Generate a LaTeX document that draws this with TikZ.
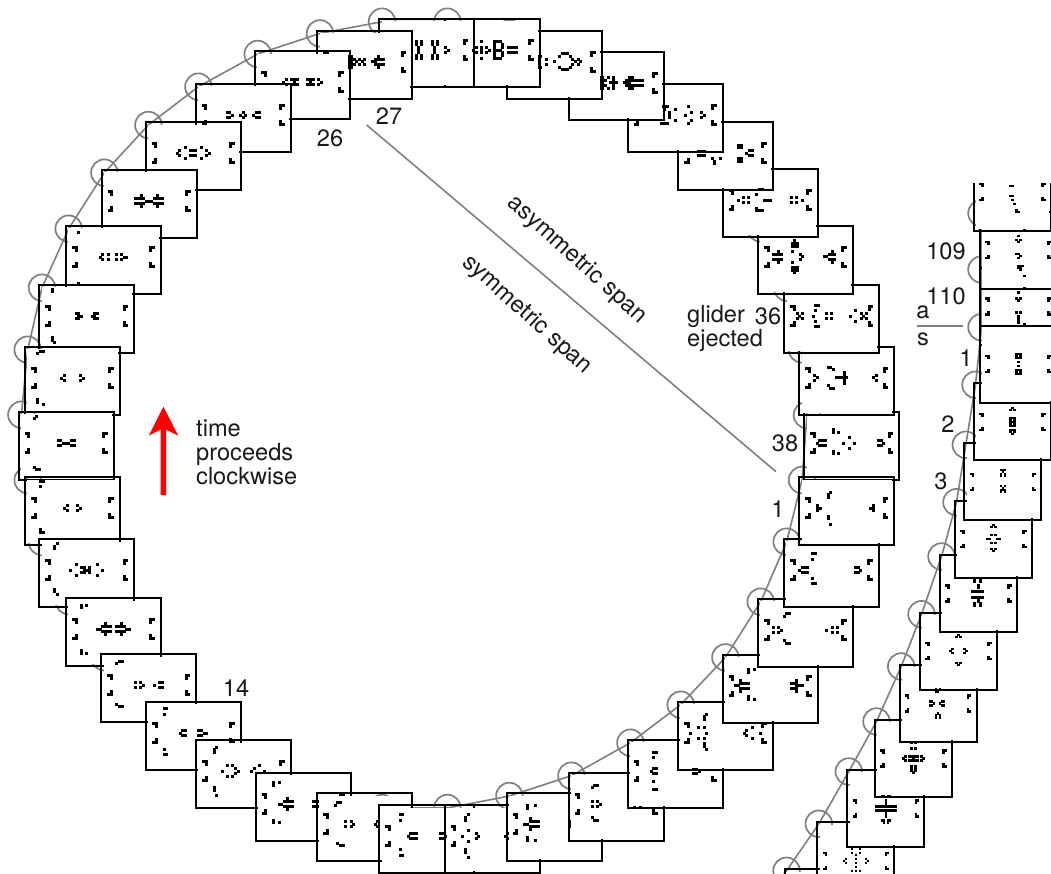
\documentclass[tikz,border=0pt]{standalone}
\usepackage{fontspec}
\setmainfont{TeX Gyre Heros}
\definecolor{ringgray}{HTML}{808080}
\definecolor{txt}{HTML}{1A1A1A}
\newcommand{\fra}[3]{%
 \begin{scope}[shift={(#1,#2)}]
  \fill[white] (2.2,2.2) rectangle (92.8,65.8);
  \draw[frm] (0,0) rectangle (95,68);
  \begin{scope}[shift={(47.5,31)}]
   \foreach \q/\r in {-15/-3.5,-14/-3.5,-14/-2.5,-14/2.5,-15/3.5,-14/3.5,14/-3.5,15/-3.5,14/-2.5,14/2.5,14/3.5,15/3.5,#3}
    {\fill (\q*2.67-1.5,\r*2.67-1.5) rectangle +(3,3);}
  \end{scope}
 \end{scope}}
\newcommand{\frb}[3]{%
 \begin{scope}[shift={(#1,#2)}]
  \fill[white] (2.2,2.2) rectangle (74.8,74.8);
  \draw[frm] (0,0) rectangle (77,77);
  \begin{scope}[shift={(38.5,38.5)}]
   \foreach \q/\r in {-16/-4,-15/-4,-15/-3,-15/3,-16/4,-15/4,15/-4,16/-4,15/-3,15/3,15/4,16/4,#3}
    {\fill (\q*2-1.2,\r*2-1.2) rectangle +(2.4,2.4);}
  \end{scope}
 \end{scope}}
\tikzset{
 frm/.style={draw=black,line width=1.8pt,line join=miter},
 ringc/.style={draw=ringgray,line width=1.7pt},
 ringl/.style={draw=ringgray,line width=1.6pt},
 lab/.style={font=\fontsize{23.6}{24}\selectfont,text=txt,inner sep=0pt},
}
\begin{document}
\begin{tikzpicture}[x=1pt,y=-1pt]
\useasboundingbox (0,0) rectangle (1051,873);
\clip (0,0) rectangle (1051,873);
\fill[white] (0,0) rectangle (1051,873);
% ring one: circles and path
\foreach \n/\x/\y in {1/799.3/477.3,2/784/539,3/758/599,4/722.7/654.7,5/678/702,6/627.7/740,7/568.7/773,8/506.7/793.3,9/444.7/805.3,10/379.3/805.3,11/317/793.3,12/255.7/773,13/196/740.3,14/146/702,15/101.3/654.3,16/66/598.3,17/39.3/539.3,18/25/477.3,19/18.7/412,20/25/347,21/39.3/285,22/66/226,23/101.7/170,24/145.7/122.3,25/195.7/84,26/255/51.3,27/317.3/30.7,28/379.3/19,29/444.7/19,30/506.7/30.7,31/568.7/51.7,32/627.7/84,33/678/122.3,34/722.7/169.3,35/758/225.7,36/784.3/285,37/799.3/346.7,38/804.3/412.3}
 {\coordinate (m\n) at (\x+2.7,\y+2.7);
  \draw[ringc] (m\n) circle (13.3);}
\draw[ringl] (m1) \foreach \n in {2,...,38} { -- (m\n) } -- cycle;
% ring two: circles and path
\foreach \n/\x/\y in {1/980/325.7,2/974/383.3,3/964.3/443.3,4/955/500.7,5/940/555,6/920/612.7,7/899.7/665,8/875/720,9/847.3/770,10/817.3/822.3,11/785/869.3,12/750/915,110/980/268,109/980/211.7}
 {\coordinate (r\n) at (\x+1.5,\y+1.5);
  \draw[ringc] (r\n) circle (13.3);}
\draw[ringl] (r109) -- (r110) -- (r1) \foreach \n in {2,...,12} { -- (r\n) };
% ring one frames, last first
\fra{804.3}{412.3}{-13/0,-12/-1,-11/-1,-10/-1,-12/1,-11/1,-10/1,-7/-5,-7/-4,-5/-4,-7/3,-7/4,-5/4,-3/0,-1/-2,-1/2,1/0,10/-1,11/-1,12/0,10/1,11/1}
\fra{799.3}{346.7}{-12/-1,-11/0,-12/1,-7/-4,-6/-4,-5/-3,-7/3,-6/4,-5/4,-4/0,-3/0,-2/0,-1/0,0/0,-1/-2,-1/-1,-1/1,-1/2,10/0,11/-1,11/1}
\fra{784.3}{285}{-13/-1,-12/0,-11/1,-13/1,-11/-1,-7/0,-6/-4,-5/-4,-6/-2,-6/2,-6/4,-5/4,-2/-1,0/-1,-2/1,0/1,7/0,9/-2,9/2,11/-1,12/0,13/1,13/-1,11/1}
\fra{758}{225.7}{-12/-1,-11/-1,-10/-1,-9/-1,-12/1,-11/1,-10/1,-9/1,-10/-2,-10/2,-5/-5,-4/-5,-3/-5,-5/-4,-3/-4,-4/-4,-4/-6,-5/-2,-2/-1,-1/0,-2/1,-5/2,-5/4,-4/4,-3/4,-4/5,-4/6,-3/5,-5/5,7/0,8/0,9/-1,10/-1,11/-1,9/1,10/1,11/1,10/-2,10/2}
\fra{722.7}{169.3}{-12/0,-10/-1,-10/1,-8/-1,-8/1,-4/-4,-3/-4,-5/-2,-2/0,-1/0,0/0,-5/3,-5/4,-4/4,-3/4,8/-1,8/1,10/-1,10/1,12/0}
\fra{678}{122.3}{-10/-1,-9/-1,-8/-1,-10/1,-9/1,-8/1,-5/2,-4/4,-2/2,-4/3,5/-3,6/-3,5/-2,6/-2,5/2,6/2,5/3,6/3,8/0,9/-1,10/-1,9/1,10/1}
\fra{627.7}{84}{-5/-3,-4/-3,-3/-3,-4/-2,-5/3,-4/3,-3/3,-2/-1,-2/0,-2/1,0/-2,0/2,5/-3,6/-1,4/0,6/2,5/3,10/-1,11/0,10/1}
\fra{568.7}{51.7}{-6/-2,-6/-1,-6/0,-6/1,-6/2,-5/-2,-5/-1,-5/0,-5/1,-5/2,-4/-1,-4/1,-3/-2,-3/2,-2/0,-1/0,0/0,-1/-2,-1/-1,-1/1,-1/2,3/0,4/-1,5/-1,6/-1,7/-1,8/-1,9/-1,10/-1,4/1,5/1,6/1,7/1,8/1,9/1,10/1,5/-2,6/-2,5/2,6/2,4/0,5/0}
\fra{506.7}{30.7}{-6/-2,-5/-2,-6/-1,-6/0,-6/1,-6/2,-5/2,-3/-1,-3/1,0/0,2/-2,3/-3,4/-3,5/-3,6/-2,7/-1,8/0,7/1,6/2,5/3,4/3,3/3,2/2,9/-1,10/0,9/1}
\fra{444.7}{19}{-7/0,-6/-1,-6/1,-4/-3,-4/-1,-4/0,-4/1,-4/3,-2/-1,-1/0,-2/1,1/-3,1/-2,1/-1,1/0,1/1,1/2,1/3,2/-3,3/-3,4/-2,2/0,3/0,4/-1,4/1,4/2,2/3,3/3,6/-1,7/-1,8/-1,9/-1,6/1,7/1,8/1,9/1}
\fra{379.3}{19}{-4/-3,-4/-2,-2/-3,-2/-2,-3/-1,-3/0,-3/1,-4/2,-4/3,-2/2,-2/3,2/-3,2/-2,4/-3,4/-2,3/-1,3/0,3/1,2/2,2/3,4/2,4/3,7/-1,8/0,7/1}
\fra{317.3}{30.7}{-6/-2,-5/-2,-6/-1,-6/0,-6/1,-6/2,-5/2,-5/-1,-5/0,-5/1,-4/-1,-4/1,-3/0,-2/-1,-1/0,-2/1,0/-1,0/1,3/0,4/-1,5/-1,6/-1,7/-1,4/1,5/1,6/1,7/1,5/-2,5/2,4/0}
\fra{255}{51.3}{-7/0,-6/-1,-6/1,-4/-1,-3/-1,-2/-1,-3/0,-4/1,-3/1,-2/1,2/-1,3/-1,4/-1,3/0,2/1,3/1,4/1,6/-1,6/1,7/0}
\fra{195.7}{84}{-6/-1,-5/-1,-4/0,-6/1,-5/1,-1/0,0/-1,0/1,1/0,4/0,5/-1,6/-1,5/1,6/1}
\fra{145.7}{122.3}{-6/0,-5/-1,-5/1,-3/-2,-3/2,-1/-1,0/-1,1/-1,-1/1,0/1,1/1,3/-2,3/2,5/-1,5/1,6/0}
\fra{101.7}{170}{-5/-1,-4/-1,-3/-1,-2/-1,-5/1,-4/1,-3/1,-2/1,-1/0,0/0,1/0,2/-1,3/-1,4/-1,5/-1,2/1,3/1,4/1,5/1,-3/-2,-3/2,3/-2,3/2}
\fra{66}{226}{-5/0,-4/-1,-4/1,-2/-1,-2/1,1/-1,1/1,3/-1,3/1,5/0,4/0,-13/-9,-13/10}
\fra{39.3}{285}{-4/-1,-3/-1,-2/0,-3/1,-4/1,-3/0,3/-1,4/-1,2/0,3/1,4/1,3/0,-13/-10,-13/-9,-13/8,-13/9,-12/10}
\fra{25}{347}{-4/0,-3/-1,-3/1,3/-1,3/1,4/0,-12/-10,-13/-9,-11/-10,-13/8,-13/9,-11/10}
\fra{18.7}{412}{-3/-1,-2/-1,2/-1,3/-1,-1/0,0/0,1/0,-3/1,-2/1,2/1,3/1,-11/-10,-12/-9,-12/9,-11/10,-10/10}
\fra{25}{477.3}{-3/0,-2/-1,-2/1,2/-1,2/1,3/0,-12/-10,-11/-10,-12/-8,-12/8,-12/9,-11/9}
\fra{39.3}{539.3}{-6/0,-4/-2,-4/2,4/-2,4/2,6/0,-2/-1,-1/-1,1/-1,-1/0,0/0,1/0,-2/1,-1/1,1/1,-11/-10,-12/-9,-12/-8,-12/7,-12/8,-11/9}
\fra{66}{598.3}{-6/0,-5/0,-4/-1,-3/-1,-2/-1,-1/-1,-4/1,-3/1,-2/1,-1/1,-3/-2,-3/2,1/-1,2/-1,3/-1,4/-1,1/1,2/1,3/1,4/1,5/0,6/0,3/-2,3/2,-12/-9,-12/-8,-10/-9,-12/8,-12/9,-10/9}
\fra{101.3}{654.3}{-5/-1,-5/1,-3/-1,-3/1,-2/0,2/0,4/-1,4/1,5/-1,5/1,-11/-9,-10/-9,-12/-8,-12/7,-11/8,-10/8}
\fra{146}{702}{-5/0,-4/-1,-3/-1,-4/1,-3/1,2/-1,3/-1,4/0,2/1,3/1,5/0,-11/-9,-10/-9,-11/-7,-11/6,-11/8,-10/8}
\fra{196}{740.3}{-8/0,-6/-2,-6/2,-4/-2,-4/2,-3/-1,-3/1,-2/0,3/0,4/-1,6/-2,8/0,-10/-9,-11/-8,-11/-7,-11/6,-11/7,-10/9}
\fra{255.7}{773}{-9/0,-8/0,-7/-1,-6/-1,-5/-1,-4/-1,-7/1,-6/1,-5/1,-4/1,-6/-2,-6/2,4/-1,5/-1,6/-1,4/1,5/1,6/1,-11/-8,-11/-7,-9/-8,-11/6,-11/7,-9/7}
\fra{317}{793.3}{-7/-1,-7/1,-5/-1,-5/1,-4/0,4/0,5/-1,5/1,-11/-7,-10/-8,-9/-8,-10/7,-9/8,-8/8,-9/-11,-8/-11}
\fra{379.3}{805.3}{-7/0,-6/-1,-5/-1,-4/-1,-6/1,-5/1,-4/1,-10/-8,-9/-8,-10/-6,-10/5,-10/7,-9/7,5/-1,6/-1,5/1,6/1,7/0}
\fra{444.7}{805.3}{-11/0,-9/-2,-9/2,-6/-1,-5/0,-6/1,-9/-8,-10/-7,-10/-6,-10/5,-10/6,-9/8,5/0,6/-1,6/1}
\fra{506.7}{793.3}{-11/0,-10/0,-9/-1,-8/-1,-7/-1,-6/-1,-9/1,-8/1,-7/1,-6/1,-9/-2,-9/2,-10/-7,-10/-6,-7/-7,-10/5,-10/6,-7/6,6/-1,6/0,6/1}
\fra{568.7}{773}{-9/-1,-9/1,-7/-1,-7/1,-6/0,-9/-6,-8/-7,-7/-7,-9/5,-8/6,-7/6,7/1,9/1}
\fra{627.7}{740}{-9/0,-8/-1,-7/-1,-8/1,-7/1,-8/-7,-7/-7,-8/-5,-8/4,-8/7,-7/7,7/-1,8/-1,9/0,7/1,8/1}
\fra{678}{702}{-13/0,-10/-2,-10/2,-8/-2,-8/2,-7/0,-8/-6,-8/-5,-7/-7,-8/4,-8/5,-7/6,7/0,8/-1,8/1,10/-2,10/2,13/0}
\fra{722.7}{654.7}{-13/0,-12/0,-11/-1,-10/-1,-9/-1,-8/-1,-11/1,-10/1,-9/1,-8/1,-11/-2,-11/2,-8/-6,-8/-5,-6/-6,-8/4,-8/5,-6/5,8/-1,9/-1,10/-1,8/1,9/1,10/1,10/0,11/0,12/0,10/-2,10/2}
\fra{758}{599}{-12/-1,-12/1,-10/-1,-10/1,-9/0,-8/-5,-7/-6,-6/-6,-8/4,-7/5,-6/5,8/0,10/-1,10/1,12/-1,12/1}
\fra{784}{539}{-12/0,-11/-1,-10/-1,-9/-1,-11/1,-10/1,-9/1,-7/-6,-6/-6,-7/-4,-7/3,-7/5,-6/5,9/-1,10/-1,11/0,9/1,10/1}
\fra{799.3}{477.3}{-11/-1,-11/0,-10/0,-11/1,-6/-6,-7/-5,-7/-4,-7/3,-7/4,-6/6,9/0,10/-1,10/0,10/1}
% ring two frames
\frb{980}{268}{3/-10,0/-7,-1/-4,1/-4,0/-3,-1/3,1/3,0/5,0/6,0/7,0/8,3/9}
\frb{980}{211.7}{0/-7,-1/-5,1/-5,0/-4,-1/2,0/2,1/3,0/4,0/8,1/8,0/9,1/9,2/8,1/10,3/-10,3/13}
\begin{scope}
 \clip (900,183) rectangle (1051,300);
 \frb{974}{153.7}{-1/-3,0/-3,-1/2,0/2,0/4,1/6,2/9,2/10,3/10,4/-13}
\end{scope}
\frb{785}{869.3}{0/-16}
\frb{817.3}{822.3}{-6/0,-5/-1,-5/1,5/-1,5/1,6/0,0/-3,0/-1,0/1,0/3,-2/-6,2/-6,-2/-4,2/-4,-2/5,0/5,2/5,-2/7,2/7}
\frb{847.3}{770}{-2/-7,-1/-7,1/-7,2/-7,-1/-6,1/-6,0/-4,0/-3,0/-2,-5/-1,-4/-1,-3/-1,-2/-1,-1/-1,0/-1,1/-1,2/-1,3/-1,4/-1,5/-1,-5/1,-4/1,-3/1,-2/1,-1/1,0/1,1/1,2/1,3/1,4/1,5/1,0/2,0/3,0/4,-2/6,-1/6,1/6,2/6,-1/7,1/7}
\frb{875}{720}{-1/-8,1/-8,-1/-5,1/-5,-5/0,-4/-1,-4/1,-2/-1,-1/-1,0/-1,1/-1,2/-1,0/0,-2/1,-1/1,0/1,1/1,2/1,4/-1,4/1,5/0,-1/4,1/4,-1/5,1/5,-1/6,1/6,0/7}
\frb{899.7}{665}{-1/-7,1/-7,-1/-6,0/-6,-4/-1,-3/-1,-2/0,-4/1,-3/1,1/0,2/-1,3/-1,2/1,3/1,0/5,-1/6,1/6,-1/7,1/7}
\frb{920}{612.7}{-1/-7,0/-8,1/-7,-4/0,-3/-1,-3/1,3/-1,3/1,4/0,-1/6,1/6,0/7}
\frb{940}{555}{-2/-7,-2/-6,1/-7,1/-6,0/-4,0/-3,-3/-1,-2/-1,-1/-1,0/-1,1/-1,2/-1,-3/2,-2/2,-1/2,0/2,1/2,2/2,0/3,0/4,-2/5,-2/6,1/5,1/6}
\frb{955}{500.7}{-1/-6,0/-7,1/-6,-3/0,-2/0,-1/-2,1/-2,-1/2,1/2,3/0,2/0,-1/5,0/6,1/5}
\frb{964.3}{443.3}{-1/-6,0/-6,1/-6,0/-5,-1/-4,1/-4,-1/-3,1/-3,-1/2,1/2,0/3,-1/4,0/4,1/4,-1/5,1/5}
\frb{974}{383.3}{-1/-6,0/-7,1/-6,-1/-2,0/-2,1/-2,-1/-1,1/-1,-1/0,0/0,1/0,-1/1,1/1,-1/2,0/2,1/2,-1/4,0/4,1/4,-1/5,0/6,1/5}
\frb{980}{325.7}{-1/-5,0/-5,1/-5,-1/-4,1/-4,-1/-3,0/-3,1/-3,0/-1,0/1,-1/3,0/3,1/3,-1/4,1/4,-1/5,0/5,1/5}
% long line between the spans
\coordinate (spanA) at (366.7,125);
\coordinate (spanB) at (776,471.7);
\draw[ringl] (spanA) -- (spanB);
\coordinate (asA) at (917,325.7);
\coordinate (asB) at (963,325.7);
\draw[ringl] (asA) -- (asB);
% red arrow
\fill[red] (163.4,406.7) -- (178.3,435.7) -- (166,429.5) -- (166,495) -- (160.7,495) -- (160.7,429.5) -- (148.8,435.7) -- cycle;
% labels
\node[lab,anchor=west,align=left] (timeT) at (196,452) {time\\proceeds\\clockwise};
\node[lab,anchor=west,align=left] (glider) at (687,328.5) {glider\\ejected};
\node[lab] (n36) at (768,316) {36};
\node[lab] (n38) at (785,443) {38};
\node[lab] (n1) at (778,509) {1};
\node[lab] (n14) at (236,688) {14};
\node[lab] (n26) at (330,138) {26};
\node[lab] (n27) at (389,116) {27};
\node[lab] (n109) at (946,251) {109};
\node[lab] (n110) at (946,296) {110};
\node[lab] (na) at (923,312) {a};
\node[lab] (ns) at (923,339) {s};
\node[lab] (r1t) at (966,358) {1};
\node[lab] (r2t) at (948,424) {2};
\node[lab] (r3t) at (941,481) {3};
\node[lab,rotate=-42] (asym) at (577,260) {asymmetric span};
\node[lab,rotate=-42] (sym) at (527,315) {symmetric span};
\end{tikzpicture}
\end{document}
